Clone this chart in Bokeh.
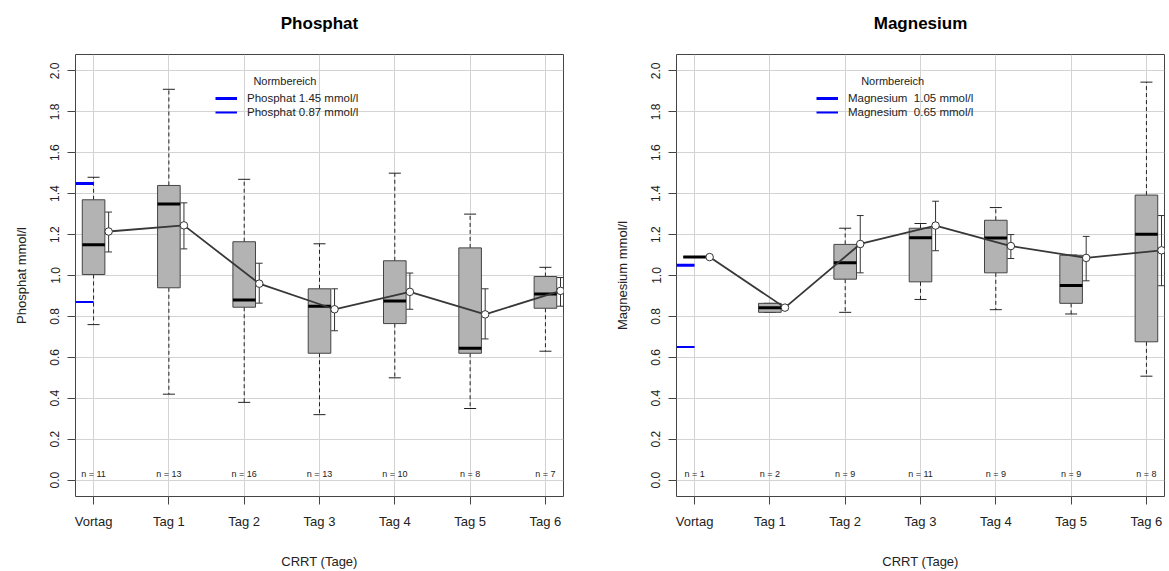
import math
from bokeh.plotting import figure
from bokeh.layouts import row
from bokeh.models import Range1d, FixedTicker, Legend, LegendItem, Label, ColumnDataSource
from bokeh.core.properties import value
from bokeh.embed import file_html
from bokeh.resources import INLINE

FONT = "Liberation Sans"

categories = ["Vortag", "Tag 1", "Tag 2", "Tag 3", "Tag 4", "Tag 5", "Tag 6"]
y_ticks = [0.0, 0.2, 0.4, 0.6, 0.8, 1.0, 1.2, 1.4, 1.6, 1.8, 2.0]

# Phosphat
phos_whisk_lo = [0.76, 0.42, 0.38, 0.32, 0.50, 0.35, 0.63]
phos_q1 = [1.005, 0.94, 0.845, 0.62, 0.765, 0.62, 0.84]
phos_median = [1.15, 1.35, 0.88, 0.85, 0.875, 0.645, 0.91]
phos_q3 = [1.37, 1.44, 1.165, 0.935, 1.072, 1.135, 0.995]
phos_whisk_hi = [1.48, 1.91, 1.47, 1.155, 1.50, 1.30, 1.04]
phos_mean = [1.215, 1.245, 0.96, 0.835, 0.92, 0.81, 0.925]
phos_err_lo = [1.115, 1.13, 0.865, 0.73, 0.835, 0.69, 0.85]
phos_err_hi = [1.31, 1.355, 1.06, 0.935, 1.012, 0.935, 0.99]
phos_n = [11, 13, 16, 13, 10, 8, 7]
phos_norm = [1.45, 0.87]
phos_norm_labels = ["Phosphat 1.45 mmol/l", "Phosphat 0.87 mmol/l"]

# Magnesium
mg_whisk_lo = [1.09, 0.82, 0.82, 0.883, 0.833, 0.812, 0.508]
mg_q1 = [1.09, 0.82, 0.982, 0.969, 1.013, 0.864, 0.676]
mg_median = [1.09, 0.843, 1.062, 1.184, 1.183, 0.951, 1.202]
mg_q3 = [1.09, 0.864, 1.152, 1.231, 1.27, 1.099, 1.393]
mg_whisk_hi = [1.09, 0.864, 1.231, 1.254, 1.332, 1.10, 1.945]
mg_mean = [1.09, 0.843, 1.154, 1.244, 1.144, 1.086, 1.123]
mg_err_lo = [float("nan"), 0.835, 1.013, 1.121, 1.083, 0.974, 0.95]
mg_err_hi = [float("nan"), 0.851, 1.293, 1.363, 1.20, 1.191, 1.293]
mg_n = [1, 2, 9, 11, 9, 9, 8]
mg_norm = [1.05, 0.65]
mg_norm_labels = ["Magnesium  1.05 mmol/l", "Magnesium  0.65 mmol/l"]

X_START, X_END = 0.76, 7.24
BOX_W = 0.3
CAP_W = 0.16
MEAN_OFF = 0.2
ERR_CAP = 0.09


def make_plot(title, ylabel, wlo, q1, med, q3, whi, mean, elo, ehi, n, norm, norm_labels,
              width, bl, br, legend_title_x):
    pos = [i + 1 for i in range(len(categories))]
    p = figure(width=width, height=571, x_range=Range1d(X_START, X_END),
               y_range=Range1d(-0.08, 2.08), output_backend="svg", toolbar_location=None,
               min_border_left=bl, min_border_right=br, min_border_top=54, min_border_bottom=71)
    p.background_fill_color = "white"
    p.border_fill_color = "white"
    p.outline_line_color = "#444444"
    p.outline_line_width = 1

    # chart title (trailing empty line lifts it above the frame like R's main title)
    p.title.text = title + "\n"
    p.title.align = "center"
    p.title.text_font = FONT
    p.title.text_font_size = "17px"
    p.title.text_font_style = "bold"
    p.title.text_color = "black"
    p.title.standoff = 6

    p.xaxis.ticker = FixedTicker(ticks=pos)
    p.xaxis.major_label_overrides = {pp: c for pp, c in zip(pos, categories)}
    p.yaxis.ticker = FixedTicker(ticks=y_ticks)
    p.yaxis.major_label_overrides = {t: f"{t:.1f}" for t in y_ticks}
    p.yaxis.major_label_orientation = "vertical"
    for ax in (p.xaxis[0], p.yaxis[0]):
        ax.axis_line_color = None
        ax.major_tick_in = 0
        ax.major_tick_out = 8
        ax.minor_tick_line_color = None
        ax.major_tick_line_color = "#444444"
        ax.major_label_text_font = FONT
        ax.major_label_text_color = "#222222"
        ax.axis_label_text_font = FONT
        ax.axis_label_text_font_style = "normal"
        ax.axis_label_text_color = "#222222"
        ax.axis_label_text_font_size = "13px"
    p.xaxis.major_label_text_font_size = "13px"
    p.yaxis.major_label_text_font_size = "12px"
    p.xaxis.major_label_standoff = 9
    p.yaxis.major_label_standoff = 8
    p.xaxis.axis_label = "CRRT (Tage)"
    p.yaxis.axis_label = ylabel
    p.xaxis.axis_label_standoff = 22
    p.yaxis.axis_label_standoff = 19

    p.xgrid.ticker = FixedTicker(ticks=pos)
    p.ygrid.ticker = FixedTicker(ticks=y_ticks)
    p.grid.grid_line_color = "#d3d3d3"
    p.grid.grid_line_width = 1

    # normal range lines
    r_hi = p.segment(x0=[X_START], x1=[pos[0]], y0=[norm[0]], y1=[norm[0]],
                     line_color="#0000ff", line_width=3)
    r_lo = p.segment(x0=[X_START], x1=[pos[0]], y0=[norm[1]], y1=[norm[1]],
                     line_color="#0000ff", line_width=2)

    src = ColumnDataSource(dict(
        x=pos, wlo=wlo, q1=q1, med=med, q3=q3, whi=whi,
        xl=[x - BOX_W / 2 for x in pos], xr=[x + BOX_W / 2 for x in pos],
        cl=[x - CAP_W / 2 for x in pos], cr=[x + CAP_W / 2 for x in pos],
        xm=[x + MEAN_OFF for x in pos], mean=mean, elo=elo, ehi=ehi,
        el=[x + MEAN_OFF - ERR_CAP / 2 for x in pos], er=[x + MEAN_OFF + ERR_CAP / 2 for x in pos],
        ny=[0.032] * len(pos), nt=[f"n = {k}" for k in n],
    ))

    # whiskers
    p.segment(x0="x", x1="x", y0="q3", y1="whi", source=src, line_color="#222222",
              line_width=1, line_dash="4 3")
    p.segment(x0="x", x1="x", y0="q1", y1="wlo", source=src, line_color="#222222",
              line_width=1, line_dash="4 3")
    p.segment(x0="cl", x1="cr", y0="whi", y1="whi", source=src, line_color="#222222", line_width=1)
    p.segment(x0="cl", x1="cr", y0="wlo", y1="wlo", source=src, line_color="#222222", line_width=1)
    # boxes
    p.vbar(x="x", bottom="q1", top="q3", width=BOX_W, source=src, fill_color="#b3b3b3",
           line_color="#444444", line_width=1)
    p.segment(x0="xl", x1="xr", y0="med", y1="med", source=src, line_color="black", line_width=3)

    # error bars of the mean
    p.segment(x0="xm", x1="xm", y0="elo", y1="ehi", source=src, line_color="#333333", line_width=1)
    p.segment(x0="el", x1="er", y0="elo", y1="elo", source=src, line_color="#333333", line_width=1)
    p.segment(x0="el", x1="er", y0="ehi", y1="ehi", source=src, line_color="#333333", line_width=1)
    # mean line and points
    p.line(x="xm", y="mean", source=src, line_color="#383838", line_width=1.8)
    p.scatter(x="xm", y="mean", source=src, size=7.5, fill_color="white", line_color="#333333",
              line_width=1)

    # n labels
    p.text(x="x", y="ny", text="nt", source=src, text_font=value(FONT), text_font_size="9px",
           text_align="center", text_baseline="middle", text_color="#222222")

    legend = Legend(items=[LegendItem(label=norm_labels[0], renderers=[r_hi]),
                           LegendItem(label=norm_labels[1], renderers=[r_lo])],
                    location=(140, 377), padding=0, margin=0, spacing=0,
                    glyph_width=22, glyph_height=14, label_height=14, label_standoff=10,
                    border_line_color=None, background_fill_alpha=0,
                    label_text_font=FONT, label_text_font_size="11.5px", label_text_color="#222222")
    p.add_layout(legend, "center")

    p.add_layout(Label(x=legend_title_x, y=1.95, text="Normbereich", text_font=FONT,
                       text_font_size="11px", text_align="center", text_baseline="middle",
                       text_color="#222222"))
    return p


p1 = make_plot("Phosphat", "Phosphat mmol/l", phos_whisk_lo, phos_q1, phos_median, phos_q3,
               phos_whisk_hi, phos_mean, phos_err_lo, phos_err_hi, phos_n, phos_norm,
               phos_norm_labels, 600, 75, 37, 3.54)
p2 = make_plot("Magnesium", "Magnesium mmol/l", mg_whisk_lo, mg_q1, mg_median, mg_q3,
               mg_whisk_hi, mg_mean, mg_err_lo, mg_err_hi, mg_n, mg_norm,
               mg_norm_labels, 569, 76, 5, 3.63)

layout = row(p1, p2)
open("out.html", "w").write(file_html(layout, INLINE))
